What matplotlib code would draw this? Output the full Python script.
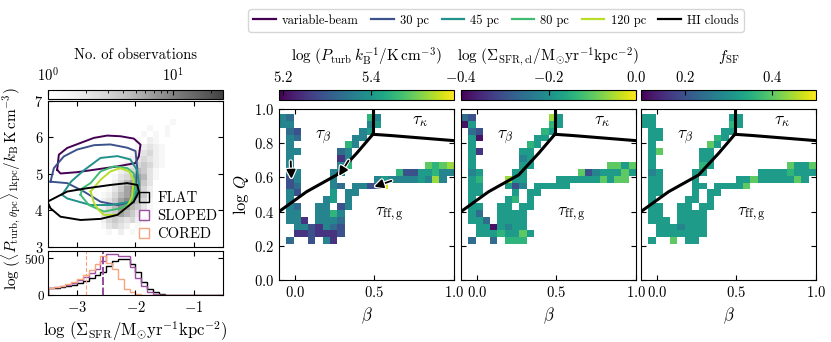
import numpy as np
import matplotlib.pyplot as plt
import matplotlib.patheffects as pe
from matplotlib.colors import LogNorm, ListedColormap
from matplotlib.lines import Line2D

plt.rcParams.update({
    'font.family': 'serif',
    'font.serif': ['cmr10'],
    'mathtext.fontset': 'cm',
    'axes.formatter.use_mathtext': True,
    'axes.unicode_minus': True,
    'font.size': 10.5,
    'axes.labelsize': 11.5,
    'xtick.direction': 'in',
    'ytick.direction': 'in',
    'xtick.top': True,
    'ytick.right': True,
    'axes.linewidth': 0.8,
})

W, H = 831, 342

# ---------------- data: left panel ----------------
# gray background 2D histogram (counts coded 0-9), x bins from -2.9 step 0.1, y bins of 1/6 from 6.5 down (top row first)
gray_rows = [
    "...............1.",
    "...........1..1..",
    "..........1.1.1..",
    ".........1.21....",
    ".........12321...",
    "........123421...",
    ".......1234321...",
    "......12345421...",
    "......2346531....",
    ".....13457631....",
    ".....2467753.....",
    "....13578742.....",
    "...124678752.....",
    "...235787641.....",
    "..1246876531.....",
    "...3457653.1.....",
    "...24543421......",
    "...13432.1.......",
    "....1.2.1........",
]
gray_levels = [1, 1.3, 1.7, 2.2, 2.8, 3.6, 4.8, 6.5, 9, 12]
gray_x0, gray_dx = -2.9, 0.1
gray_y_top, gray_dy = 6.5, 1 / 6.0

contour_names = ['variable-beam', '30 pc', '45 pc', '80 pc', '120 pc', 'HI clouds']
contour_colors = ['#440154', '#3b528b', '#21918c', '#3fbc73', '#b8de29', 'black']
contour_x = [
    [-3.343, -3.314, -3.171, -2.943, -2.714, -2.486, -2.257, -2.029, -1.914, -1.943, -2.0, -2.314, -2.714, -3.0, -3.286, -3.343],
    [-3.457, -3.40, -3.23, -3.0, -2.71, -2.43, -2.14, -2.0, -1.97, -2.0, -2.03, -2.31, -2.6, -2.886, -3.17, -3.457],
    [-3.26, -3.1, -2.886, -2.6, -2.31, -2.09, -1.97, -1.94, -2.0, -2.09, -2.43, -2.77, -3.17, -3.26],
    [-2.943, -2.91, -2.77, -2.6, -2.37, -2.14, -2.03, -2.0, -2.06, -2.26, -2.54, -2.80, -2.943],
    [-2.77, -2.6, -2.43, -2.26, -2.11, -2.03, -2.06, -2.14, -2.31, -2.54, -2.63, -2.71, -2.77],
    [-3.51, -3.17, -2.83, -2.43, -2.14, -1.97, -1.94, -2.03, -2.31, -2.6, -2.943, -3.286, -3.457, -3.51],
]
contour_y = [
    [5.115, 5.529, 5.713, 5.851, 5.989, 6.053, 6.034, 5.970, 5.805, 5.483, 5.30, 5.207, 5.115, 5.05, 5.014, 5.115],
    [4.79, 5.16, 5.48, 5.67, 5.79, 5.81, 5.72, 5.63, 5.16, 4.61, 4.24, 4.15, 4.24, 4.52, 4.75, 4.79],
    [4.43, 4.8, 5.1, 5.44, 5.49, 5.40, 5.10, 4.70, 4.43, 4.24, 4.15, 4.15, 4.33, 4.43],
    [4.43, 4.61, 4.75, 5.07, 5.21, 5.16, 5.02, 4.61, 4.24, 4.06, 3.97, 4.15, 4.43],
    [4.52, 4.84, 5.07, 5.16, 5.07, 4.84, 4.38, 4.10, 3.88, 3.88, 4.01, 4.20, 4.52],
    [4.24, 4.52, 4.61, 4.70, 4.75, 4.70, 4.52, 4.24, 3.88, 3.77, 3.74, 3.83, 4.06, 4.24],
]

# bottom histograms, bins of 0.1 from -3.5
hist_edges = np.round(np.arange(-3.5, -0.45, 0.1), 2)
flat_counts = [95, 100, 110, 125, 140, 165, 190, 230, 270, 320, 400, 470, 487, 487, 420, 310, 177, 88, 44, 15, 6, 3, 2, 1, 1, 0, 0, 0, 0, 0]
sloped_counts = [95, 105, 120, 140, 165, 200, 245, 300, 360, 460, 553, 553, 530, 530, 376, 230, 120, 40, 12, 5, 3, 2, 1, 1, 0, 0, 0, 0, 0, 0]
cored_counts = [100, 110, 125, 150, 180, 220, 270, 340, 420, 530, 442, 354, 221, 88, 40, 15, 6, 3, 1, 1, 0, 0, 0, 0, 0, 0, 0, 0, 0, 0]
hist_names = ['FLAT', 'SLOPED', 'CORED']
hist_colors = ['black', '#9e4fa5', '#f7a57f']
median_x = [-2.56, -2.56, -2.84]

# ---------------- data: heatmaps ----------------
# 24 beta bins, 19 log Q bins; rows listed from top (log Q 0.93-0.97) to bottom (0.21-0.25)
beta_edges = np.linspace(-0.1, 1.0, 25)
logq_edges = 0.21 + 0.04 * np.arange(20)
p1_rows = [
    "43..........64..........",
    "44..........45..........",
    ".32........45...........",
    ".43.......44............",
    ".4.......64.............",
    ".44.....34..............",
    ".4......14..............",
    ".4......46..........7678",
    ".34....44.......62255644",
    ".24....4.....4544445484.",
    ".23....43.44229.........",
    ".42....5.44.............",
    ".4....45.4..............",
    ".43..44.24..............",
    ".44..4464...............",
    ".441.4443...............",
    "..4421432...............",
    "..1121112...............",
    ".3..2.41................",
]
p2_rows = [
    "32..........85..........",
    "05..........65..........",
    ".32........65...........",
    ".50.......55............",
    ".5.......65.............",
    ".51.....55..............",
    ".5......45..............",
    ".5......55..........7757",
    ".45....55.......72455575",
    ".56...855....5555557577.",
    ".55...524.55555.........",
    ".55....5.55.............",
    ".5....56.5..............",
    ".55..55.55..............",
    ".53..5555...............",
    ".553.5555...............",
    "..5505455...............",
    "..55565575..............",
    ".3..3.666...............",
]
p3_rows = [
    "55..........55..........",
    "55..........65..........",
    ".55........55...........",
    ".55.......65............",
    ".5.......75.............",
    ".57.....55..............",
    ".5......55..............",
    ".5......65..........7557",
    ".45....55.......55556555",
    ".55....5.....5575555575.",
    ".55....55.55557.........",
    ".55....5.55.............",
    ".5....55.5..............",
    ".55..55.55..............",
    ".55..5555...............",
    ".555.5555...............",
    "..5554555...............",
    "..5555555...............",
    ".5..7.55................",
]
panel_rows = [p1_rows, p2_rows, p3_rows]
panel_vmin = [5.19, -0.4, 0.1]
panel_vmax = [5.59, 0.0, 0.5]
panel_ticks = [[5.2, 5.4], [-0.4, -0.2, 0.0], [0.2, 0.4]]
panel_labels = [r'$\log\,(P_{\rm turb}\,k_{\rm B}^{-1}/{\rm K\,cm^{-3}})$',
                r'$\log\,(\Sigma_{\rm SFR,cl}/{\rm M_{\odot}yr^{-1}kpc^{-2}})$',
                r'$f_{\rm SF}$']

# regime boundaries
bnd_low_b = [-0.1, 0.073, 0.262, 0.388, 0.49]
bnd_low_q = [0.40, 0.516, 0.614, 0.741, 0.852]
bnd_up_b = [0.49, 0.49]
bnd_up_q = [0.852, 1.0]
bnd_right_b = [0.49, 0.6, 0.8, 1.0]
bnd_right_q = [0.852, 0.845, 0.83, 0.815]
arrow_start = [(-0.027, 0.71), (0.346, 0.712), (0.623, 0.585)]
arrow_end = [(-0.021, 0.575), (0.268, 0.595), (0.482, 0.54)]


def fx(px):
    return px / W


def fy(py):
    return 1 - py / H


fig = plt.figure(figsize=(W / 100, H / 100), dpi=100)

# ---------- left panel ----------
ax_c = fig.add_axes([fx(48), fy(247), fx(175), 146 / H])
ax_h = fig.add_axes([fx(48), fy(295), fx(175), 44 / H])
cax_g = fig.add_axes([fx(48), fy(99), fx(175), 9 / H])

gcmap = ListedColormap(plt.cm.Greys(np.linspace(0, 0.8, 256)))
gnorm = LogNorm(1, 25)
gz = np.full((len(gray_rows), len(gray_rows[0])), np.nan)
for r, row in enumerate(gray_rows):
    for c, ch in enumerate(row):
        if ch != '.':
            gz[r, c] = gray_levels[int(ch)]
gx = gray_x0 + gray_dx * np.arange(gz.shape[1] + 1)
gy = gray_y_top - gray_dy * np.arange(gz.shape[0] + 1)
im_g = ax_c.pcolormesh(gx, gy, np.ma.masked_invalid(gz), cmap=gcmap, norm=gnorm)

for xs, ys, col in zip(contour_x, contour_y, contour_colors):
    ax_c.plot(xs, ys, color=col, lw=1.4)

for name, col in zip(hist_names, hist_colors):
    ax_c.plot([], [], 's', mfc='none', mec=col, ms=6.5, label=name)
ax_c.legend(loc='lower right', frameon=False, handletextpad=0.5, labelspacing=0.3,
            borderaxespad=0.0, handlelength=0.8, fontsize=10.5)
ax_c.set_xlim(-3.5, -0.5)
ax_c.set_ylim(3, 7)
ax_c.set_yticks([3, 4, 5, 6, 7])
ax_c.set_xticks([-3, -2, -1])
ax_c.set_xticklabels([])
ax_c.set_ylabel(r'$\log\,(\langle P_{{\rm turb},\,\theta{\rm pc}}\rangle_{\rm 1kpc}/k_{\rm B}\,{\rm K\,cm^{-3}})$',
                fontsize=11)
ax_c.yaxis.set_label_coords(-0.14, 0.4)

cb_g = fig.colorbar(im_g, cax=cax_g, orientation='horizontal')
cb_g.ax.xaxis.set_ticks_position('top')
cb_g.ax.xaxis.set_label_position('top')
cb_g.set_label('No. of observations', labelpad=6, fontsize=10.5)
cb_g.outline.set_linewidth(0.8)

for counts, col in zip([flat_counts, sloped_counts, cored_counts], hist_colors):
    ax_h.stairs(counts, hist_edges, color=col, lw=1.0)
for xm, col, lw in zip(median_x, hist_colors, [1.4, 1.4, 0.8]):
    ax_h.axvline(xm, color=col, ls='--', lw=lw)
ax_h.set_xlim(-3.5, -0.5)
ax_h.set_ylim(0, 600)
ax_h.set_yticks([0, 500])
ax_h.tick_params(axis='y', labelsize=9.5, pad=2)
ax_h.set_xticks([-3, -2, -1])
ax_h.set_xlabel(r'$\log\,(\Sigma_{\rm SFR}/{\rm M_{\odot}yr^{-1}kpc^{-2}})$', fontsize=12, labelpad=3)

# ---------- heatmaps ----------
lefts = [279, 461, 641]
nq, nb = len(logq_edges) - 1, len(beta_edges) - 1
for p in range(3):
    ax = fig.add_axes([fx(lefts[p]), fy(280), fx(175), 171 / H])
    cax = fig.add_axes([fx(lefts[p]), fy(99.5), fx(175), 10 / H])
    rows = panel_rows[p]
    z = np.full((nq, nb), np.nan)
    for r, row in enumerate(rows):
        for c, ch in enumerate(row.ljust(nb, '.')[:nb]):
            if ch != '.':
                z[nq - 1 - r, c] = panel_vmin[p] + (int(ch) + 0.5) / 10 * (panel_vmax[p] - panel_vmin[p])
    im = ax.pcolormesh(beta_edges, logq_edges, np.ma.masked_invalid(z), cmap='viridis',
                       vmin=panel_vmin[p], vmax=panel_vmax[p])
    ax.plot(bnd_low_b, bnd_low_q, color='black', lw=2.2)
    ax.plot(bnd_up_b, bnd_up_q, color='black', lw=2.2)
    ax.plot(bnd_right_b, bnd_right_q, color='black', lw=2.2)
    ax.text(0.18, 0.83, r'$\tau_{\beta}$', fontsize=12.5, ha='center', va='center')
    ax.text(0.79, 0.93, r'$\tau_{\kappa}$', fontsize=12.5, ha='center', va='center')
    ax.text(0.59, 0.38, r'$\tau_{\rm ff,g}$', fontsize=12.5, ha='center', va='center')
    if p == 0:
        for s, e in zip(arrow_start, arrow_end):
            ax.annotate('', xy=e, xytext=s,
                        arrowprops=dict(arrowstyle='-|>', color='black', lw=1.3, mutation_scale=13,
                                        path_effects=[pe.withStroke(linewidth=3, foreground='white')]))
    ax.set_xlim(-0.1, 1.0)
    ax.set_ylim(0, 1)
    ax.set_xticks([0.0, 0.5, 1.0])
    ax.set_yticks([0.0, 0.2, 0.4, 0.6, 0.8, 1.0])
    ax.set_xlabel(r'$\beta$', fontsize=12)
    if p == 0:
        ax.set_ylabel(r'$\log\,Q$', labelpad=2, fontsize=12)
    else:
        ax.set_yticklabels([])
    cb = fig.colorbar(im, cax=cax, orientation='horizontal')
    cb.set_ticks(panel_ticks[p])
    cb.ax.xaxis.set_ticks_position('top')
    cb.ax.xaxis.set_label_position('top')
    cb.set_label(panel_labels[p], labelpad=6, fontsize=11)
    cb.outline.set_linewidth(0.8)

handles = [Line2D([], [], color=c, lw=1.6) for c in contour_colors]
fig.legend(handles, contour_names, loc='upper center', ncol=6, bbox_to_anchor=(496 / W, 1 - 3 / H),
           fontsize=9, frameon=True, handlelength=1.8, columnspacing=1.0, handletextpad=0.5,
           fancybox=True, edgecolor='#cccccc')

fig.savefig('out.png', dpi=100)
